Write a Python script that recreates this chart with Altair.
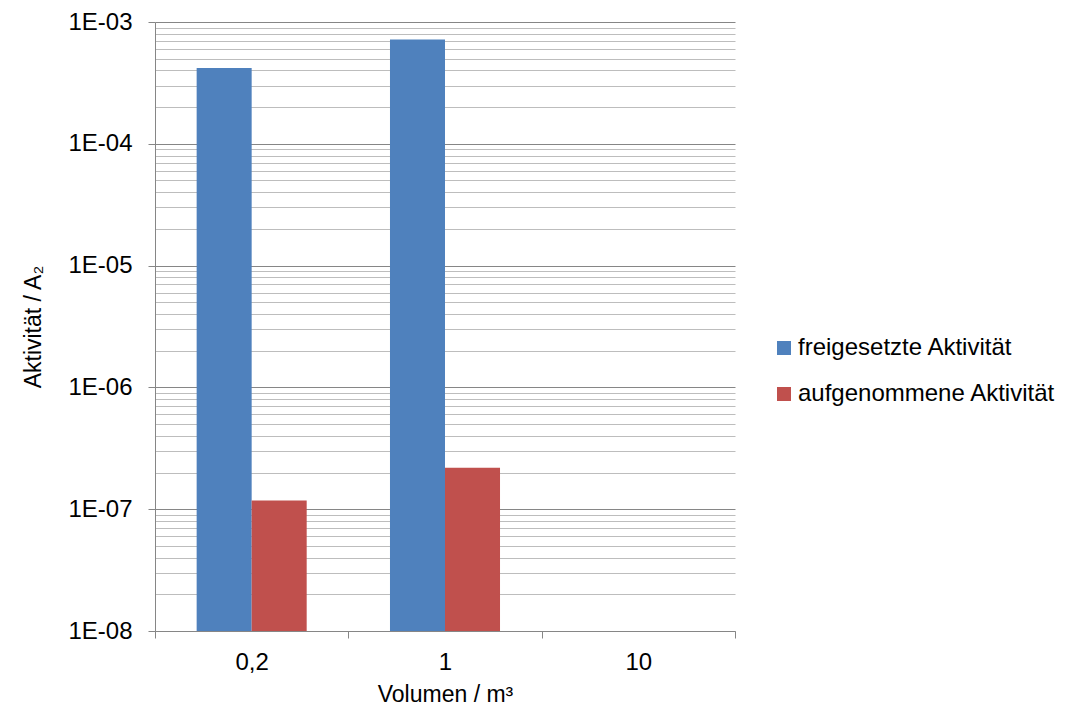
import altair as alt
import pandas as pd

volumes = ["0,2", "1", "10"]
series = ["freigesetzte Aktivität", "aufgenommene Aktivität"]
freigesetzt = [4.2e-4, 7.2e-4, None]
aufgenommen = [1.18e-7, 2.19e-7, None]
colors = ["#4F81BD", "#C0504D"]

rows = []
for v, f, a in zip(volumes, freigesetzt, aufgenommen):
    if f is not None:
        rows.append({"Volumen": v, "Serie": series[0], "Wert": f})
    if a is not None:
        rows.append({"Volumen": v, "Serie": series[1], "Wert": a})
df = pd.DataFrame(rows)

tick_values = [k * 10.0 ** e for e in range(-8, -3) for k in range(1, 10)] + [1e-3]

FONT = "Liberation Sans"
decade = "abs(log(datum.value)/LN10 - round(log(datum.value)/LN10)) < 0.001"

chart = alt.Chart(df).mark_bar().encode(
    x=alt.X(
        "Volumen:N",
        sort=volumes,
        scale=alt.Scale(domain=volumes, paddingInner=0, paddingOuter=0),
        axis=alt.Axis(
            title="Volumen / m³",
            labelAngle=0,
            tickBand="extent",
            ticks=True,
            tickSize=7,
            tickColor="#868686",
            domainColor="#868686",
            grid=False,
            labelPadding=12,
            titlePadding=9,
        ),
    ),
    xOffset=alt.XOffset(
        "Serie:N", sort=series,
        scale=alt.Scale(domain=series, paddingInner=0, paddingOuter=0.757),
    ),
    y=alt.Y(
        "Wert:Q",
        scale=alt.Scale(type="log", domain=[1e-8, 1e-3], nice=False),
        axis=alt.Axis(
            title="Aktivität / A₂",
            values=tick_values,
            labelExpr="(" + decade + ") ? '1E-0' + abs(round(log(datum.value)/LN10)) : ''",
            labelOverlap=False,
            labelFlush=False,
            labelPadding=16,
            titlePadding=22,
            tickSize=7,
            tickColor={"condition": {"test": decade, "value": "#868686"}, "value": "rgba(0,0,0,0)"},
            gridColor={"condition": {"test": decade, "value": "#868686"}, "value": "#bdbdbd"},
            gridOpacity=1,
            domainColor="#868686",
        ),
    ),
    y2=alt.Y2Datum(1e-8),
    color=alt.Color(
        "Serie:N",
        scale=alt.Scale(domain=series, range=colors),
        legend=alt.Legend(
            title=None,
            orient="none",
            legendX=617,
            legendY=314,
            symbolType="square",
            symbolSize=196,
            symbolStrokeWidth=0,
            labelFontSize=24,
            labelFont=FONT,
            labelColor="black",
            labelOffset=2,
            labelLimit=0,
            rowPadding=22,
            padding=0,
        ),
    ),
).properties(
    width=580,
    height=609,
    autosize=alt.AutoSizeParams(type="none"),
    padding={"left": 147, "top": 14, "right": 346, "bottom": 76},
).configure_view(
    stroke=None
).configure_axis(
    labelFont=FONT,
    titleFont=FONT,
    labelFontSize=24,
    titleFontSize=23,
    labelColor="black",
    titleColor="black",
    titleFontWeight="normal",
)

chart.save("out.html", embed_options={"renderer": "svg", "actions": False})
